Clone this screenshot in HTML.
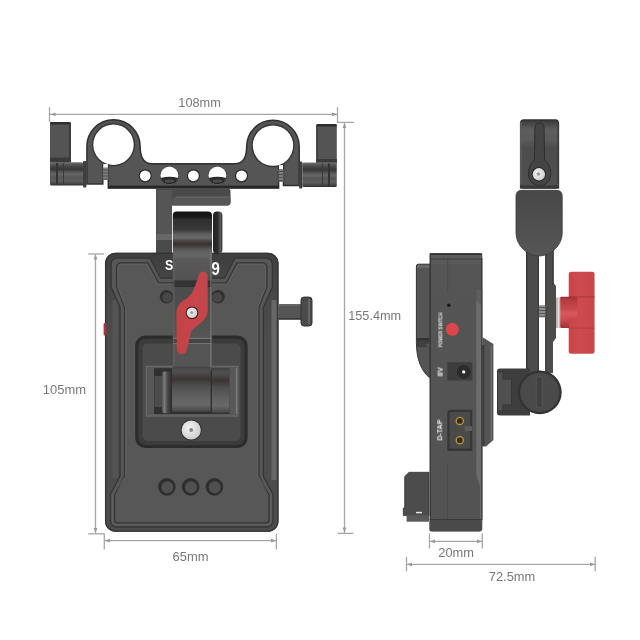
<!DOCTYPE html>
<html><head><meta charset="utf-8">
<style>
html,body{margin:0;padding:0;background:#fff;width:640px;height:640px;overflow:hidden}
svg{display:block}
text{font-family:"Liberation Sans",sans-serif}
</style></head>
<body>
<svg width="640" height="640" viewBox="0 0 640 640">
<defs>
<linearGradient id="gCap" x1="0" y1="0" x2="1" y2="0">
<stop offset="0" stop-color="#222"/><stop offset="0.5" stop-color="#2c2c2c"/><stop offset="0.8" stop-color="#5a5a5a"/><stop offset="1" stop-color="#333"/>
</linearGradient>
<linearGradient id="gRed" x1="0" y1="0" x2="1" y2="0">
<stop offset="0" stop-color="#c24346"/><stop offset="0.6" stop-color="#c8454b"/><stop offset="1" stop-color="#c2454a"/>
</linearGradient>
<linearGradient id="gRedK" x1="0" y1="0" x2="1" y2="0">
<stop offset="0" stop-color="#c94448"/><stop offset="0.4" stop-color="#cf4a4e"/><stop offset="1" stop-color="#c84649"/>
</linearGradient>
<radialGradient id="gSilver" cx="0.4" cy="0.4" r="0.7">
<stop offset="0" stop-color="#f4f4f4"/><stop offset="1" stop-color="#c8c8c8"/>
</radialGradient>
<linearGradient id="gBarrel" x1="0" y1="0" x2="0" y2="1">
<stop offset="0" stop-color="#7a7a7a"/><stop offset="0.07" stop-color="#5a5a5a"/><stop offset="0.2" stop-color="#444"/><stop offset="0.3" stop-color="#363636"/><stop offset="0.42" stop-color="#555"/><stop offset="0.52" stop-color="#666"/><stop offset="0.65" stop-color="#555"/><stop offset="0.8" stop-color="#5e5e5e"/><stop offset="0.93" stop-color="#444"/><stop offset="1" stop-color="#2a2a2a"/>
</linearGradient>
<linearGradient id="gRoller" x1="0" y1="0" x2="0" y2="1">
<stop offset="0" stop-color="#444"/><stop offset="0.1" stop-color="#505050"/><stop offset="0.27" stop-color="#3c3434"/><stop offset="0.42" stop-color="#4e4e4e"/><stop offset="0.62" stop-color="#5e5e5e"/><stop offset="0.82" stop-color="#686868"/><stop offset="0.95" stop-color="#4c4c4c"/><stop offset="1" stop-color="#2e2e2e"/>
</linearGradient>
<linearGradient id="gCapL" x1="0" y1="0" x2="1" y2="0">
<stop offset="0" stop-color="#555"/><stop offset="0.25" stop-color="#7a7a7a"/><stop offset="0.55" stop-color="#4a4a4a"/><stop offset="1" stop-color="#2a2a2a"/>
</linearGradient>
<linearGradient id="gTop" x1="0" y1="0" x2="0" y2="1">
<stop offset="0" stop-color="#2e2e2e"/><stop offset="0.05" stop-color="#444"/><stop offset="0.15" stop-color="#5e5e5e"/><stop offset="0.3" stop-color="#5a5a5a"/><stop offset="0.42" stop-color="#4c4c4c"/><stop offset="1" stop-color="#505050"/>
</linearGradient>
<linearGradient id="gPad" x1="0" y1="0" x2="0" y2="1">
<stop offset="0" stop-color="#484848"/><stop offset="1" stop-color="#565656"/>
</linearGradient>
<linearGradient id="gWasher" x1="0" y1="0" x2="1" y2="0">
<stop offset="0" stop-color="#999"/><stop offset="0.5" stop-color="#ddd"/><stop offset="1" stop-color="#aaa"/>
</linearGradient>
<linearGradient id="gHub" x1="0" y1="0" x2="0" y2="1">
<stop offset="0" stop-color="#9a2c30"/><stop offset="0.1" stop-color="#b53a3e"/><stop offset="0.35" stop-color="#c6474b"/><stop offset="0.55" stop-color="#d85a5e"/><stop offset="0.75" stop-color="#c94a4e"/><stop offset="1" stop-color="#a03034"/>
</linearGradient>
<linearGradient id="gRim" x1="0" y1="0" x2="0" y2="1">
<stop offset="0" stop-color="#3e3e3e"/><stop offset="0.1" stop-color="#464646"/><stop offset="0.3" stop-color="#4c4c4c"/><stop offset="1" stop-color="#4c4c4c"/>
</linearGradient>
<linearGradient id="gArmV" gradientUnits="userSpaceOnUse" x1="0" y1="211.6" x2="0" y2="371.6">
<stop offset="0" stop-color="#111"/><stop offset="0.02" stop-color="#161616"/><stop offset="0.04" stop-color="#1e1e1e"/><stop offset="0.05" stop-color="#333"/><stop offset="0.066" stop-color="#303030"/><stop offset="0.115" stop-color="#3a3a3a"/><stop offset="0.14" stop-color="#5e5e5e"/><stop offset="0.165" stop-color="#686868"/><stop offset="0.184" stop-color="#4a4444"/><stop offset="0.203" stop-color="#3a3030"/><stop offset="0.222" stop-color="#4a4646"/><stop offset="0.24" stop-color="#5c5c5c"/><stop offset="0.278" stop-color="#666"/><stop offset="0.3" stop-color="#5a5a5a"/><stop offset="0.42" stop-color="#525252"/><stop offset="0.429" stop-color="#505050"/><stop offset="0.432" stop-color="#303030"/><stop offset="0.45" stop-color="#363636"/><stop offset="0.468" stop-color="#303030"/><stop offset="0.471" stop-color="#4a4d4d"/><stop offset="0.6" stop-color="#4e4e4e"/><stop offset="0.79" stop-color="#565656"/><stop offset="0.793" stop-color="#7a7a7a"/><stop offset="0.799" stop-color="#444"/><stop offset="0.821" stop-color="#444"/><stop offset="0.825" stop-color="#7a7a7a"/><stop offset="0.83" stop-color="#555"/><stop offset="1" stop-color="#555"/>
</linearGradient>
<linearGradient id="gBody" x1="0" y1="0" x2="0" y2="1">
<stop offset="0" stop-color="#555"/><stop offset="1" stop-color="#535353"/>
</linearGradient>
<filter id="fNone"><feOffset dx="0" dy="0"/></filter>
</defs>
<rect width="640" height="640" fill="#fff"/>

<!-- ============ DIMENSION LINES ============ -->
<g stroke="#a6a6a6" stroke-width="1.3" fill="none">
  <line x1="49.5" y1="107" x2="49.5" y2="122"/>
  <line x1="337.5" y1="107" x2="337.5" y2="122.5"/>
  <line x1="50" y1="114.3" x2="337" y2="114.3"/>
  <line x1="337" y1="122.4" x2="354" y2="122.4"/>
  <line x1="344.5" y1="123" x2="344.5" y2="533"/>
  <line x1="337.5" y1="533.4" x2="353.5" y2="533.4"/>
  <line x1="88.2" y1="254" x2="104" y2="254"/>
  <line x1="95.5" y1="254" x2="95.5" y2="533.5"/>
  <line x1="88.2" y1="533.8" x2="104.5" y2="533.8"/>
  <line x1="104.3" y1="533.8" x2="104.3" y2="549.5"/>
  <line x1="276.4" y1="533.8" x2="276.4" y2="549.5"/>
  <line x1="105" y1="540.7" x2="276" y2="540.7"/>
  <line x1="429.5" y1="533.4" x2="429.5" y2="548.5"/>
  <line x1="482.3" y1="533.4" x2="482.3" y2="548.5"/>
  <line x1="430" y1="541.4" x2="482" y2="541.4"/>
  <line x1="406.5" y1="556.8" x2="406.5" y2="571.3"/>
  <line x1="595.2" y1="556.8" x2="595.2" y2="571.3"/>
  <line x1="407" y1="564.4" x2="595" y2="564.4"/>
</g>
<g fill="#999">
  <path d="M50.5 114.3 L55.5 112.4 L55.5 116.2 Z"/>
  <path d="M337 114.3 L332 112.4 L332 116.2 Z"/>
  <path d="M344.5 123 L342.6 128 L346.4 128 Z"/>
  <path d="M344.5 532.5 L342.6 527.5 L346.4 527.5 Z"/>
  <path d="M95.5 254.5 L93.6 259.5 L97.4 259.5 Z"/>
  <path d="M95.5 533 L93.6 528 L97.4 528 Z"/>
  <path d="M105 540.7 L110 538.8 L110 542.6 Z"/>
  <path d="M276 540.7 L271 538.8 L271 542.6 Z"/>
  <path d="M430 541.4 L435 539.5 L435 543.3 Z"/>
  <path d="M482 541.4 L477 539.5 L477 543.3 Z"/>
  <path d="M407 564.4 L412 562.5 L412 566.3 Z"/>
  <path d="M595 564.4 L590 562.5 L590 566.3 Z"/>
</g>
<g fill="#787878" font-size="12.8" filter="url(#fNone)">
  <text x="178.3" y="106.8" textLength="42.6" lengthAdjust="spacingAndGlyphs">108mm</text>
  <text x="348.2" y="320" textLength="53" lengthAdjust="spacingAndGlyphs">155.4mm</text>
  <text x="42.8" y="393.9" textLength="43.2" lengthAdjust="spacingAndGlyphs">105mm</text>
  <text x="172.6" y="560.5" textLength="36" lengthAdjust="spacingAndGlyphs">65mm</text>
  <text x="438.3" y="557.3" textLength="35.6" lengthAdjust="spacingAndGlyphs">20mm</text>
  <text x="488.8" y="580.6" textLength="46.4" lengthAdjust="spacingAndGlyphs">72.5mm</text>
</g>

<!-- ============ FRONT VIEW ============ -->
<!-- rod clamp bar with rings -->
<path fill="#555" stroke="#303030" stroke-width="1.5" d="M86.9 184 L86.9 146.3 A26.6 26.6 0 0 1 140.1 146.3 C140.1 156 143 163.8 152 163.8 L234.8 163.8 C243.8 163.8 246.7 156 246.7 146.6 A26.25 26.25 0 0 1 299.2 146.6 L299.2 185.5 L283.5 185.5 L283.5 165 L278.6 165 L278.6 188 L108.3 188 L108.3 165 L102.8 165 L102.8 184 Z"/>
<rect x="108.3" y="185.6" width="170.3" height="2.8" fill="#262626"/>
<rect x="151" y="163.2" width="85" height="1.6" fill="#3a3a3a"/>
<circle cx="113.5" cy="144.7" r="22" fill="#484848"/>
<circle cx="273" cy="145.6" r="22" fill="#484848"/>
<circle cx="113.5" cy="144.7" r="21.2" fill="#303030"/>
<circle cx="273" cy="145.6" r="21.2" fill="#303030"/>
<circle cx="113.5" cy="144.7" r="20.2" fill="#fff"/>
<circle cx="273" cy="145.6" r="20.2" fill="#fff"/>
<!-- slit + screws -->
<rect x="103.3" y="164" width="4.5" height="4" fill="#fff"/>
<rect x="279.1" y="165" width="3.9" height="4" fill="#fff"/>
<rect x="102.8" y="167.5" width="5.5" height="12.5" fill="#7e7e7e"/>
<rect x="278.6" y="169" width="4.9" height="13" fill="#7e7e7e"/>
<g stroke="#4a4a4a" stroke-width="0.9">
<line x1="102.8" y1="170" x2="108.3" y2="170"/><line x1="102.8" y1="173" x2="108.3" y2="173"/><line x1="102.8" y1="176" x2="108.3" y2="176"/><line x1="102.8" y1="179" x2="108.3" y2="179"/>
<line x1="278.6" y1="171.5" x2="283.5" y2="171.5"/><line x1="278.6" y1="174.5" x2="283.5" y2="174.5"/><line x1="278.6" y1="177.5" x2="283.5" y2="177.5"/><line x1="278.6" y1="180.5" x2="283.5" y2="180.5"/>
</g>
<!-- bar holes -->
<g fill="#2a2a2a">
<circle cx="145.2" cy="175.8" r="6.6"/>
<circle cx="193.4" cy="175.8" r="6.6"/>
<circle cx="241.5" cy="175.8" r="6.6"/>
<circle cx="169.4" cy="175.6" r="9.5"/>
<circle cx="217.4" cy="175.6" r="9.5"/>
</g>
<g fill="#fff">
<circle cx="145.2" cy="175.8" r="5.4"/>
<circle cx="193.4" cy="175.8" r="5.4"/>
<circle cx="241.5" cy="175.8" r="5.4"/>
<circle cx="169.4" cy="175.6" r="9"/>
<circle cx="217.4" cy="175.6" r="9"/>
</g>
<g fill="#2a2a2a">
<path d="M160.6 178 Q169.4 175.6 178.2 178 A9.2 9.2 0 0 1 160.6 178 Z"/>
<path d="M208.6 178 Q217.4 175.6 226.2 178 A9.2 9.2 0 0 1 208.6 178 Z"/>
</g>
<g fill="#4e4e4e">
<ellipse cx="169.4" cy="181" rx="5" ry="1.6"/>
<ellipse cx="217.4" cy="181" rx="5" ry="1.6"/>
</g>
<!-- left clamp -->
<rect x="50" y="122" width="20.8" height="41" rx="2" fill="#545454"/>
<rect x="50" y="122" width="20.8" height="2.6" rx="1.3" fill="#2e2e2e"/>
<rect x="69.2" y="123" width="1.6" height="40" fill="#333"/>
<rect x="50" y="157.5" width="20.8" height="5" fill="#3a3a3a"/>
<rect x="50" y="162.2" width="33.5" height="23.4" rx="1.5" fill="url(#gBarrel)"/>
<rect x="83" y="161" width="3.4" height="26.5" rx="1" fill="#3e3e3e"/>
<rect x="56" y="163" width="2" height="22" fill="#333"/>
<rect x="63" y="163" width="1" height="22" fill="#3a3a3a"/>
<!-- right clamp -->
<rect x="316.3" y="124" width="20.5" height="40" rx="2" fill="#545454"/>
<rect x="316.3" y="124" width="20.5" height="2.6" rx="1.3" fill="#2e2e2e"/>
<rect x="316.3" y="125" width="1.5" height="39" fill="#3a3a3a"/>
<rect x="316.3" y="159" width="20.5" height="4.5" fill="#3a3a3a"/>
<rect x="302.4" y="162.5" width="34.4" height="24.6" rx="1.5" fill="url(#gBarrel)"/>
<rect x="299" y="161.5" width="3.4" height="27" rx="1" fill="#3e3e3e"/>
<rect x="328" y="163.5" width="2" height="23" fill="#333"/>
<rect x="322" y="163.5" width="1" height="23" fill="#3a3a3a"/>

<!-- L bracket -->
<path fill="#4a4a4a" d="M156 188.5 L227.5 188.5 Q230.5 188.5 230.5 191.5 L230.5 202 Q230.5 205.4 227.5 205.4 L172 205.4 L172 254 L156 254 Z"/>
<path fill="#565656" d="M172.5 205.4 L172.5 200.5 Q172.5 196.6 176.5 196.6 L228.5 196.6 Q230.5 196.6 230.5 198.6 L230.5 202 Q230.5 205.4 227.5 205.4 Z"/>
<rect x="176" y="196.6" width="53" height="1.2" fill="#666"/>
<rect x="156.5" y="190" width="15.5" height="64" fill="#555"/>
<rect x="156.5" y="234" width="15.5" height="6" fill="#686868"/>
<rect x="156.5" y="240" width="15.5" height="14" fill="#4a4a4a"/>

<!-- plate -->
<rect x="105" y="252.8" width="173.5" height="279" rx="10.5" fill="url(#gRim)"/>
<path fill="#575757" d="M111.1 287 L111.1 265 Q111.1 258.2 118 258.2 L150 258.2 L160.5 278 L224.5 278 L235 258.2 L265.5 258.2 Q272.4 258.2 272.4 265 L272.4 287 L263.4 307.5 L263.4 476 L273 494.5 L273 520 Q273 527 266 527 L117.5 527 Q110.4 527 110.4 520 L110.4 494.5 L120.1 476 L120.1 307.5 Z"/>
<rect x="112.5" y="300" width="5.5" height="178" fill="#545454"/>
<rect x="271.5" y="300" width="5" height="180" fill="#666"/>
<rect x="105.6" y="253.4" width="172.3" height="277.8" rx="10" fill="none" stroke="#333" stroke-width="1.3"/>
<g fill="none" stroke="#363636" stroke-width="1.3">
<path d="M111.1 287 L111.1 265 Q111.1 258.2 118 258.2 L150 258.2 L160.5 278 L224.5 278 L235 258.2 L265.5 258.2 Q272.4 258.2 272.4 265 L272.4 287 L263.4 307.5 L263.4 476 L273 494.5 L273 520 Q273 527 266 527 L117.5 527 Q110.4 527 110.4 520 L110.4 494.5 L120.1 476 L120.1 307.5 Z"/>
<path d="M116.6 287 L116.6 268 Q116.6 262.9 121 262.9 L148 262.9 L158.5 282.8 L226.5 282.8 L237 262.9 L262.5 262.9 Q266.9 262.9 266.9 268 L266.9 287 L259 307.5 L259 476 L269 494.5 L269 519.8 Q269 522.8 266 522.8 L117.6 522.8 Q114.6 522.8 114.6 519.8 L114.6 494.5 L124.5 476 L124.5 307.5 Z"/>
</g>
<g fill="none" stroke="#636363" stroke-width="0.9">
<path d="M118 287 L118 269 Q118 264.3 122 264.3 L147 264.3 L157.6 284.2 L227.4 284.2 L238 264.3 L261.5 264.3 Q265.5 264.3 265.5 269 L265.5 287 L257.6 307.5 L257.6 476 L271 494.5 L271 521 Q271 524.8 267 524.8 L116.5 524.8 Q112.5 524.8 112.5 521 L112.5 494.5 L125.9 476 L125.9 307.5 Z"/>
</g>
<!-- knob on right -->
<rect x="278.5" y="304.1" width="23.5" height="15.5" fill="#555"/>
<rect x="278.5" y="304.1" width="23.5" height="2" fill="#666"/>
<rect x="278.5" y="318" width="23.5" height="1.6" fill="#3a3a3a"/>
<rect x="301" y="297.1" width="11" height="28.9" rx="3" fill="#4a4a4a"/>
<rect x="301" y="297.1" width="11" height="28.9" rx="3" fill="none" stroke="#333" stroke-width="1"/>
<rect x="308" y="299" width="2" height="25" fill="#666"/>
<!-- red button left -->
<rect x="103.6" y="323" width="2.8" height="12.6" rx="1" fill="#9c3a40"/>

<!-- holes under logo -->
<circle cx="166.5" cy="296.7" r="6.8" fill="#303030"/>
<circle cx="218" cy="296.7" r="6.8" fill="#303030"/>
<circle cx="167.3" cy="297.5" r="5" fill="#474747"/>
<circle cx="217.2" cy="297.5" r="5" fill="#474747"/>

<!-- recessed square -->
<rect x="135.2" y="335.5" width="112.4" height="112.5" rx="10" fill="#2c2c2c"/>
<rect x="138.3" y="338.7" width="106.2" height="106.2" rx="7.5" fill="#3c3c3c"/>
<rect x="142.5" y="343.5" width="98" height="97.5" rx="5" fill="#4b4b4b"/>
<rect x="145.7" y="365.7" width="92.7" height="50.9" fill="#585858"/>
<rect x="146.3" y="366.3" width="91.5" height="49.7" fill="none" stroke="#6c6c6c" stroke-width="1"/>
<rect x="154" y="368.2" width="75.3" height="45.8" fill="#303030"/>
<rect x="154.5" y="376" width="7.5" height="31" fill="#4c4c4c"/>
<rect x="162" y="371.5" width="10" height="41.8" rx="2" fill="url(#gCapL)"/>
<rect x="212" y="368.2" width="17.3" height="45.8" rx="2" fill="url(#gRoller)"/>
<rect x="235.8" y="368" width="1.2" height="46" fill="#7a7a7a"/>
<!-- silver screw -->
<circle cx="191.2" cy="430" r="10.6" fill="#333"/>
<circle cx="191.2" cy="430" r="9.6" fill="url(#gSilver)"/>
<circle cx="191.2" cy="430" r="2" fill="#888"/>

<!-- three holes -->
<g fill="#2e2e2e">
<circle cx="166.9" cy="486.9" r="8.8"/>
<circle cx="190.6" cy="486.9" r="8.8"/>
<circle cx="214.4" cy="486.9" r="8.8"/>
</g>
<g fill="#505050">
<circle cx="167.3" cy="487.3" r="6"/>
<circle cx="191" cy="487.3" r="6"/>
<circle cx="214.8" cy="487.3" r="6"/>
</g>

<!-- central arm / knob -->
<rect x="172.8" y="211.6" width="39.2" height="160" rx="4" fill="url(#gArmV)"/>
<rect x="173.4" y="252" width="0.9" height="115" fill="#666"/>
<rect x="210.4" y="252" width="1" height="115" fill="#7e7e7e"/>
<rect x="213" y="211.6" width="9.4" height="42" rx="3.8" fill="url(#gCap)"/>
<!-- barrel -->
<rect x="172" y="366.5" width="38.6" height="46.2" rx="2.5" fill="url(#gRoller)"/>

<!-- red lever -->
<path fill="url(#gRed)" d="M198.6 276.5 Q199.8 271.5 202.8 271.5 Q206.6 271.5 207.6 275.5 L207.8 310 Q207.6 317.5 201 322.8 L193 329 Q190.6 331 190.2 335.5 L186.8 349.5 Q185.8 354.2 181.6 354.2 Q177 354 176.8 349 L176.4 314 Q176.6 304.5 183.5 300.6 Q190.5 297 193.5 290 Z"/>
<circle cx="192" cy="312.8" r="6.3" fill="#3a1a1a"/>
<circle cx="192" cy="312.8" r="5.3" fill="url(#gSilver)"/>
<circle cx="191.6" cy="312.6" r="1.5" fill="#999"/>

<!-- logo letters -->
<text filter="url(#fNone)" transform="translate(165,269.6) scale(0.8,1)" fill="#fff" font-size="15.4" font-weight="bold">S</text>
<text filter="url(#fNone)" transform="translate(211.5,275.2) scale(0.84,1)" fill="#fff" font-size="17.8" font-weight="bold">9</text>

<!-- ============ SIDE VIEW ============ -->
<!-- top block -->
<rect x="519.9" y="119.3" width="39.3" height="69.4" rx="4" fill="url(#gTop)"/>
<rect x="520.4" y="122" width="1.4" height="62" fill="#5e5e5e"/>
<rect x="557.4" y="122" width="1.4" height="62" fill="#3a3a3a"/>
<path fill="#444" stroke="#2e2e2e" stroke-width="1" d="M535 127 Q535.2 123 539.4 123 Q543.8 123 544 127 L544.6 160 Q550.8 164.5 550.8 174.5 A11.2 11.2 0 1 1 528.4 174.5 Q528.4 164.5 534.4 160 Z"/>
<circle cx="538.9" cy="174.3" r="7.1" fill="#222"/>
<circle cx="538.9" cy="174.3" r="6.2" fill="url(#gSilver)"/>
<circle cx="538.4" cy="174" r="1.8" fill="#999"/>
<rect x="519.9" y="185.4" width="39.3" height="3.3" fill="#383838"/>
<!-- arms -->
<rect x="526" y="245" width="13" height="130" fill="#4c4c4c"/>
<rect x="526" y="245" width="1.3" height="130" fill="#333"/>
<rect x="537.8" y="245" width="1.2" height="130" fill="#3a3a3a"/>
<path fill="#4c4c4c" d="M545.2 245 L553.5 245 L553.5 283 L556 286 L556 338 L553 342 L553 373 L545.2 373 Z"/>
<rect x="545.2" y="245" width="1.2" height="130" fill="#3a3a3a"/>
<rect x="552.5" y="245" width="1.2" height="40" fill="#333"/>
<!-- paddle -->
<path fill="url(#gPad)" stroke="#3a3a3a" stroke-width="0.8" d="M516 196 Q516 190.3 522 190.3 L556.2 190.3 Q562.2 190.3 562.2 196 L562.2 233 C562.2 246 550 256 539 256 C528 256 516 246 516 233 Z"/>
<!-- screw -->
<rect x="538.9" y="305.2" width="6.4" height="12.2" fill="#8e8e8e"/>
<g stroke="#555" stroke-width="0.9"><line x1="538.9" y1="307.5" x2="545.3" y2="307.5"/><line x1="538.9" y1="310.5" x2="545.3" y2="310.5"/><line x1="538.9" y1="313.5" x2="545.3" y2="313.5"/><line x1="538.9" y1="316.3" x2="545.3" y2="316.3"/></g>
<!-- red knob -->
<rect x="556.2" y="297.5" width="4.2" height="30.5" fill="url(#gWasher)"/>
<rect x="568.75" y="271.7" width="25.8" height="82" rx="2.5" fill="url(#gRedK)"/>
<path d="M560.2 298 Q560.2 296.7 561.5 296.7 L574 296.7 Q577.5 296.7 577.5 300 L577.5 316 Q577.5 318 575.5 318 L571 318 Q569 318 569 320 L569 328 L561.5 328 Q560.2 328 560.2 326.7 Z" fill="url(#gHub)"/>
<rect x="568.75" y="296.2" width="25.8" height="1.4" fill="#a8363a" opacity="0.7"/>
<rect x="568.75" y="327.5" width="25.8" height="1.2" fill="#a8363a" opacity="0.5"/>
<!-- body -->
<path fill="#555" stroke="#333" stroke-width="1" d="M416.4 266 Q416.4 264.2 418.4 264.2 L430 264.2 L430 378 C422 372 416.4 360 416.4 342.5 Z"/>
<rect x="417" y="265" width="12.5" height="3" fill="#686868"/>
<rect x="416.8" y="338" width="12.6" height="9" fill="#404040"/>
<rect x="416.8" y="338" width="12.6" height="2.5" fill="#333"/>
<circle cx="428" cy="345" r="1.6" fill="#5a5a5a"/>
<rect x="429.7" y="253.3" width="52.6" height="278" rx="2.5" fill="url(#gBody)"/>
<rect x="429.7" y="253.3" width="52.6" height="1.6" rx="0.8" fill="#333"/>
<rect x="430" y="255" width="51" height="3" fill="#5c5c5c"/>
<rect x="430" y="258.5" width="51" height="1.2" fill="#444"/>
<rect x="430" y="260" width="51" height="4" fill="#5a5a5a"/>
<rect x="429.7" y="253.3" width="1.1" height="278" fill="#333"/>
<line x1="447.7" y1="257" x2="447.7" y2="292" stroke="#474747" stroke-width="0.8"/>
<line x1="447.5" y1="465" x2="447.5" y2="531" stroke="#474747" stroke-width="0.8"/>
<path d="M476.3 300 L482.2 306 L482.2 522 L480 522 L480 486 L476.3 475 Z" fill="#6c6c6c"/>
<path d="M476.3 290 L482.2 290 L482.2 306 L476.3 300 Z" fill="#5e5e5e"/>
<rect x="481.2" y="258" width="1.2" height="262" fill="#3a3a3a"/>
<rect x="429.7" y="519.5" width="52" height="12" rx="2" fill="#4a4a4a"/>
<rect x="429.7" y="519" width="52" height="1" fill="#3a3a3a"/>
<path fill="#555" d="M482.3 337 L493.4 344 L493.4 440 L486 446.4 L482.3 446.4 Z"/>
<rect x="482.3" y="345" width="2" height="101" fill="#3a3a3a"/>
<rect x="490.5" y="345" width="1.5" height="95" fill="#6a6a6a"/>
<!-- bottom-left protrusion -->
<path fill="#4c4c4c" stroke="#333" stroke-width="0.8" d="M409 472.3 L429 472.3 L429 515.6 L403.3 515.6 L403.3 508 L404.7 508 L404.7 476.6 Z"/>
<rect x="406.6" y="516" width="22.4" height="5.7" fill="#5a5a5a"/>
<rect x="416" y="511.8" width="6" height="1.5" fill="#e8e8e8"/>
<!-- bracket left of knob -->
<path fill="#3e3e3e" d="M497 371 Q497 368.5 500 368.5 L530 368.5 L530 415.5 L500 415.5 Q497 415.5 497 413 Z"/>
<path fill="#505050" stroke="#333" stroke-width="0.8" d="M497.5 372 L503 372 L503 379 L511.5 379 L511.5 405 L503 405 L503 411 L497.5 411 Z"/>
<!-- round knob -->
<circle cx="539.8" cy="392.3" r="21.9" fill="#333"/>
<circle cx="539.8" cy="392.3" r="19.6" fill="#4a4a4a"/>
<rect x="536.3" y="376.4" width="5.9" height="31.6" rx="2.9" fill="#404040" stroke="#5a5a5a" stroke-width="0.8"/>
<!-- buttons -->
<circle cx="448.8" cy="305.3" r="1.8" fill="#1a1a1a"/>
<circle cx="452.4" cy="329.3" r="6.5" fill="#db4649"/>
<text filter="url(#fNone)" transform="translate(442.4,347.2) rotate(-90)" fill="#e4e4e4" font-size="6.2" font-weight="bold" textLength="34.6" lengthAdjust="spacingAndGlyphs">POWER SWITCH</text>
<rect x="447.3" y="362.3" width="25" height="18.2" fill="#3c3c3c"/>
<circle cx="463.7" cy="371.9" r="7.6" fill="#2c2c2c" stroke="#4a4a4a" stroke-width="0.8"/>
<circle cx="463.7" cy="371.9" r="1.6" fill="#fff"/>
<text filter="url(#fNone)" transform="translate(442.6,376.5) rotate(-90)" fill="#eee" font-size="7.6" font-weight="bold">8V</text>
<path fill="#363636" d="M451 409.7 L472.3 409.7 L472.3 450.9 L447.3 450.9 L447.3 413.3 Q447.3 409.7 451 409.7 Z"/>
<rect x="449.6" y="412" width="20.5" height="36.5" rx="1" fill="#4a4a4a"/>
<circle cx="459.8" cy="420.9" r="3.6" fill="#3a2e1e" stroke="#b8963a" stroke-width="1.3"/>
<circle cx="459.8" cy="440.3" r="3.6" fill="#3a2e1e" stroke="#b8963a" stroke-width="1.3"/>
<rect x="464.6" y="426.2" width="7.7" height="4.8" fill="#5e5e5e"/>
<text filter="url(#fNone)" transform="translate(442.2,440.5) rotate(-90)" fill="#eee" font-size="7.3" font-weight="bold" textLength="20.8" lengthAdjust="spacingAndGlyphs">D-TAP</text>

</svg>
</body></html>
